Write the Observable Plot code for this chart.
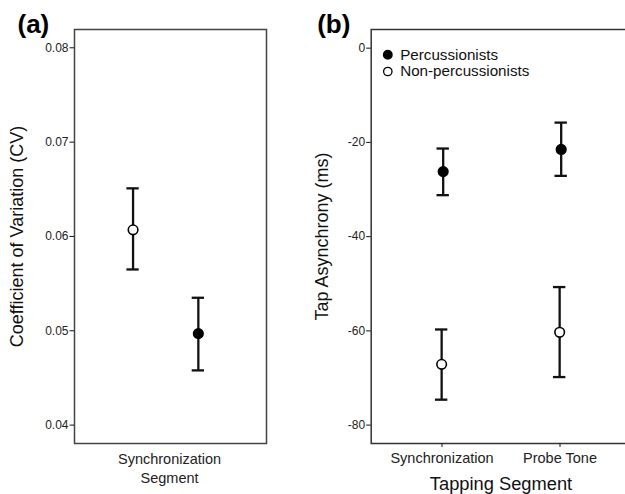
<!DOCTYPE html>
<html>
<head>
<meta charset="utf-8">
<script src="https://cdn.jsdelivr.net/npm/d3@7"></script>
<script src="https://cdn.jsdelivr.net/npm/@observablehq/plot@0.6"></script>
<style>
  html, body { margin: 0; padding: 0; background: #fff; }
  #wrap { position: relative; width: 625px; height: 494px; overflow: hidden; background: #fff;
          font-family: "Liberation Sans", Arial, Helvetica, sans-serif; }
  .panel { position: absolute; top: 0; }
  .panel svg { overflow: visible; }
</style>
</head>
<body>
<div id="wrap">
  <div class="panel" id="pa" style="left:0px;width:268px;"></div>
  <div class="panel" id="pb" style="left:290px;width:341px;"></div>
</div>
<script>
// ---------- Panel (a) data ----------
const groupsA = ["Non-percussionists", "Percussionists"];
const cvMean  = [0.0607, 0.0497];
const cvLow   = [0.0565, 0.0458];
const cvHigh  = [0.0651, 0.0535];
const cvTicks = [0.04, 0.05, 0.06, 0.07, 0.08];
const categoryA = "Synchronization\nSegment";
const yLabelA = "Coefficient of Variation (CV)";

// ---------- Panel (b) data ----------
const segments = ["Synchronization", "Probe Tone"];
const series   = ["Percussionists", "Non-percussionists"];
const percMean = [-26.2, -21.5];
const percLow  = [-31.2, -27.1];
const percHigh = [-21.3, -15.8];
const nonMean  = [-67.1, -60.3];
const nonLow   = [-74.6, -69.8];
const nonHigh  = [-59.7, -50.7];
const asyncTicks = [-80, -60, -40, -20, 0];
const yLabelB = "Tap Asynchrony (ms)";
const xLabelB = "Tapping Segment";

const FONT = "Liberation Sans, Arial, Helvetica, sans-serif";
const INK = "#111";

// ----- build rows -----
const dodgeA = {"Non-percussionists": -0.19, "Percussionists": 0.15};
const rowsA = groupsA.map((g, i) => ({
  group: g, x: 0.495 + dodgeA[g], mean: cvMean[i], lo: cvLow[i], hi: cvHigh[i],
  filled: g === "Percussionists"
}));
const capA = 0.032;

const dodgeB = {"Percussionists": 0.01, "Non-percussionists": -0.003};
const rowsB = [];
segments.forEach((s, i) => {
  rowsB.push({series: series[0], seg: s, x: i + 1 + dodgeB[series[0]], mean: percMean[i], lo: percLow[i], hi: percHigh[i], filled: true});
  rowsB.push({series: series[1], seg: s, x: i + 1 + dodgeB[series[1]], mean: nonMean[i], lo: nonLow[i], hi: nonHigh[i], filled: false});
});
const capB = 0.0525;

const fmt = d => String(d);

// ---------- Panel (a) ----------
const plotA = Plot.plot({
  width: 268, height: 494,
  marginLeft: 74, marginRight: 2, marginTop: 29, marginBottom: 51,
  style: {fontFamily: FONT, background: "white", color: INK},
  x: {domain: [0, 1], axis: null},
  y: {domain: [0.03805, 0.08194], axis: null},
  marks: [
    Plot.frame({stroke: "#444", strokeWidth: 1.5}),
    Plot.axisY({ticks: cvTicks, tickFormat: fmt, tickSize: 4.5, tickPadding: 1.5, fontSize: 12, label: null, stroke: INK, fill: "#222"}),
    Plot.axisX({ticks: [0.495], tickFormat: () => categoryA, tickSize: 0, tickPadding: 7, fontSize: 14.5, lineHeight: 1.3, label: null, fill: "#222"}),
    Plot.text([yLabelA], {text: d => d, frameAnchor: "left", textAnchor: "middle", lineAnchor: "middle", rotate: -90, dx: -57, fontSize: 18, fill: "#111"}),
    Plot.text(["(a)"], {text: d => d, frameAnchor: "top-left", textAnchor: "start", lineAnchor: "middle", dx: -57, dy: -5, fontSize: 26, fontWeight: "bold", fill: "#000"}),
    Plot.ruleX(rowsA, {x: "x", y1: "lo", y2: "hi", stroke: INK, strokeWidth: 2.3}),
    Plot.ruleY(rowsA, {y: "lo", x1: d => d.x - capA, x2: d => d.x + capA, stroke: INK, strokeWidth: 2.3}),
    Plot.ruleY(rowsA, {y: "hi", x1: d => d.x - capA, x2: d => d.x + capA, stroke: INK, strokeWidth: 2.3}),
    Plot.dot(rowsA, {x: "x", y: "mean", r: 4.8, fill: d => d.filled ? "#000" : "#fff", stroke: "#000", strokeWidth: 1.6})
  ]
});
document.getElementById("pa").appendChild(plotA);

// ---------- Panel (b) ----------
const plotB = Plot.plot({
  width: 341, height: 494,
  marginLeft: 80.7, marginRight: 0.7, marginTop: 29, marginBottom: 51,
  style: {fontFamily: FONT, background: "white", color: INK},
  x: {domain: [0.4, 2.6], axis: null},
  y: {domain: [-83.9, 3.96], axis: null},
  marks: [
    Plot.frame({stroke: "#333", strokeWidth: 1.5}),
    Plot.axisY({ticks: asyncTicks, tickFormat: fmt, tickSize: 4.5, tickPadding: 1.5, fontSize: 12, label: null, stroke: INK, fill: "#222"}),
    Plot.axisX({ticks: [1, 2], tickFormat: d => segments[d - 1], tickSize: 4, tickPadding: 5, fontSize: 14.5, label: null, stroke: INK, fill: "#222"}),
    Plot.text([xLabelB], {text: d => d, frameAnchor: "bottom", textAnchor: "middle", lineAnchor: "middle", dy: 40.6, fontSize: 18.3, fill: "#111"}),
    Plot.text([yLabelB], {text: d => d, frameAnchor: "left", textAnchor: "middle", lineAnchor: "middle", rotate: -90, dx: -48.5, fontSize: 18, fill: "#111"}),
    Plot.text(["(b)"], {text: d => d, frameAnchor: "top-left", textAnchor: "start", lineAnchor: "middle", dx: -54, dy: -5, fontSize: 26, fontWeight: "bold", fill: "#000"}),
    // legend
    Plot.dot([series[0]], {frameAnchor: "top-left", dx: 16.6, dy: 25.3, r: 4.2, fill: "#000", stroke: "#000"}),
    Plot.dot([series[1]], {frameAnchor: "top-left", dx: 16.6, dy: 42, r: 4.2, fill: "#fff", stroke: "#000", strokeWidth: 1.3}),
    Plot.text([series[0]], {text: d => d, frameAnchor: "top-left", textAnchor: "start", lineAnchor: "middle", dx: 29, dy: 25.3, fontSize: 15.2, fill: "#111"}),
    Plot.text([series[1]], {text: d => d, frameAnchor: "top-left", textAnchor: "start", lineAnchor: "middle", dx: 29, dy: 42, fontSize: 15.2, fill: "#111"}),
    // error bars
    Plot.ruleX(rowsB, {x: "x", y1: "lo", y2: "hi", stroke: INK, strokeWidth: 2.3}),
    Plot.ruleY(rowsB, {y: "lo", x1: d => d.x - capB, x2: d => d.x + capB, stroke: INK, strokeWidth: 2.3}),
    Plot.ruleY(rowsB, {y: "hi", x1: d => d.x - capB, x2: d => d.x + capB, stroke: INK, strokeWidth: 2.3}),
    Plot.dot(rowsB, {x: "x", y: "mean", r: 4.8, fill: d => d.filled ? "#000" : "#fff", stroke: "#000", strokeWidth: 1.6})
  ]
});
document.getElementById("pb").appendChild(plotB);
</script>
</body>
</html>
